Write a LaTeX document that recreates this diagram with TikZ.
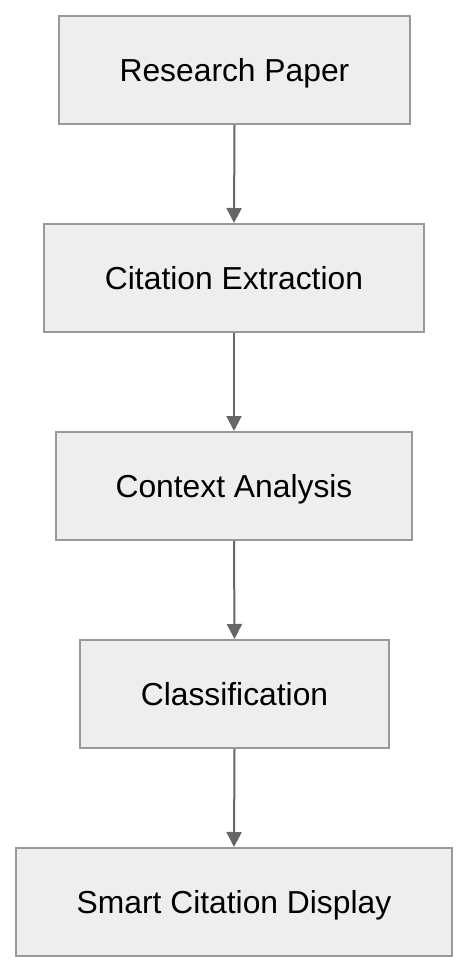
\documentclass[tikz,border=0pt]{standalone}
\usepackage{fontspec}
\setmainfont{Liberation Sans}
\usetikzlibrary{arrows.meta}
\definecolor{boxfill}{HTML}{EEEEEE}
\definecolor{boxline}{HTML}{999999}
\definecolor{arrowcol}{HTML}{666666}
\begin{document}
\begin{tikzpicture}[x=1pt,y=-1pt,
  stepbox/.style={draw=boxline,fill=boxfill,line width=2pt,minimum height=108pt,inner sep=0pt,text height=22.8pt,text depth=0pt,font=\fontsize{31.8}{36}\selectfont},
  flow/.style={draw=arrowcol,line width=2pt,-{Triangle[length=15pt,width=15pt]}}]
\useasboundingbox (0,0) rectangle (468,972);
\node[stepbox,minimum width=351pt] (a) at (234.5,70) {Research Paper};
\node[stepbox,minimum width=380pt] (b) at (234,278) {Citation Extraction};
\node[stepbox,minimum width=356pt] (c) at (234,486) {Context Analysis};
\node[stepbox,minimum width=309pt] (d) at (234.5,694) {Classification};
\node[stepbox,minimum width=436pt] (e) at (234,902) {Smart Citation Display};
\draw[flow] (a.south) -- (b.north);
\draw[flow] (b.south) -- (c.north);
\draw[flow] (c.south) -- (d.north);
\draw[flow] (d.south) -- (e.north);
\end{tikzpicture}
\end{document}
